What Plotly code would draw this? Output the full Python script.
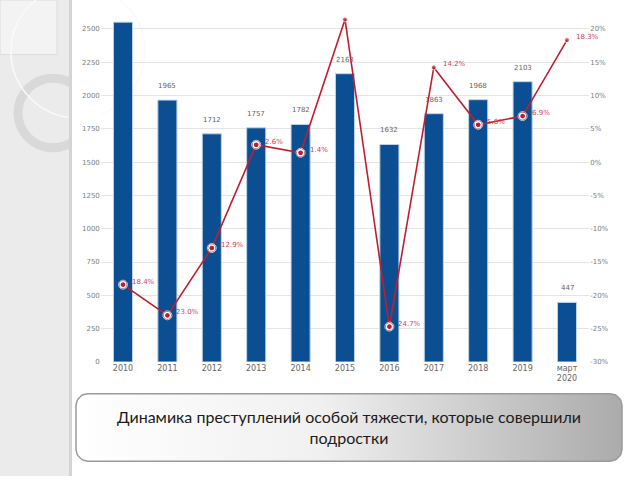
import numpy as np
import plotly.graph_objects as go

# ---------------- data ----------------
categories = ["2010", "2011", "2012", "2013", "2014", "2015", "2016", "2017", "2018", "2019", "март<br>2020"]
counts = [2550, 1965, 1712, 1757, 1782, 2163, 1632, 1863, 1968, 2103, 447]
count_labels = ["", "1965", "1712", "1757", "1782", "2163", "1632", "1863", "1968", "2103", "447"]
change_pct = [-18.4, -23.0, -12.9, 2.6, 1.4, 21.4, -24.7, 14.2, 5.6, 6.9, 18.3]
change_labels = ["18.4%", "23.0%", "12.9%", "2.6%", "1.4%", "", "24.7%", "14.2%", "5.6%", "6.9%", "18.3%"]
ringed = [True, True, True, True, True, False, True, False, True, True, False]
left_ticks = [0, 250, 500, 750, 1000, 1250, 1500, 1750, 2000, 2250, 2500]
right_ticks = [-30, -25, -20, -15, -10, -5, 0, 5, 10, 15, 20]
right_tick_text = [f"{v}%" for v in right_ticks]
caption = "Динамика преступлений особой тяжести, которые совершили<br>подростки"

W, H = 640, 480
BAR = "#0b4f92"
RED = "#c01e2e"
LBL = "#d8404e"

xi = list(range(len(categories)))

fig = go.Figure()

# bars
fig.add_trace(go.Bar(
    x=xi, y=counts, width=0.43,
    marker=dict(color=BAR, line=dict(color="#bcd4ec", width=1)),
    xaxis="x", yaxis="y", hoverinfo="skip", showlegend=False))

# line
fig.add_trace(go.Scatter(
    x=xi, y=change_pct, mode="lines+markers", xaxis="x", yaxis="y2",
    line=dict(color=RED, width=1.6),
    marker=dict(size=[9 if r else 5 for r in ringed], color=RED),
    showlegend=False, hoverinfo="skip", cliponaxis=False))
rx = [i for i, r in zip(xi, ringed) if r]
ry = [v for v, r in zip(change_pct, ringed) if r]
fig.add_trace(go.Scatter(
    x=rx, y=ry, mode="markers", xaxis="x", yaxis="y2",
    marker=dict(size=6, color=RED, line=dict(color="white", width=1.3)),
    showlegend=False, hoverinfo="skip", cliponaxis=False))

annotations = []
for i, v, t in zip(xi, counts, count_labels):
    if t:
        annotations.append(dict(x=i, y=v, xref="x", yref="y", text=t, showarrow=False,
                                yshift=14, font=dict(family="DejaVu Sans", size=7, color="#666")))
for i, v, t in zip(xi, change_pct, change_labels):
    if t:
        annotations.append(dict(x=i, y=v, xref="x", yref="y2", text=t, showarrow=False,
                                xanchor="left", xshift=7, yshift=3,
                                font=dict(family="DejaVu Sans", size=7, color=LBL)))

# caption box (rounded rectangle with horizontal gradient) on a helper pixel axis
x0, x1, y0, y1, r = 76, 622, 397, 465, 12
pts_x, pts_y = [], []
for cx, cy, a0 in [(x1 - r, y0 + r, -90), (x1 - r, y1 - r, 0), (x0 + r, y1 - r, 90), (x0 + r, y0 + r, 180)]:
    ang = np.radians(np.linspace(a0, a0 + 90, 12))
    pts_x += [float(v) for v in cx + r * np.cos(ang)]
    pts_y += [float(v) for v in cy + r * np.sin(ang)]
pts_x.append(pts_x[0]); pts_y.append(pts_y[0])
fig.add_trace(go.Scatter(
    x=pts_x, y=pts_y, xaxis="x3", yaxis="y3", mode="lines", fill="toself",
    line=dict(color="#9a9a9a", width=1.5),
    fillgradient=dict(type="horizontal", colorscale=[[0, "#ffffff"], [0.45, "#f0f0f0"], [1, "#ababab"]]),
    showlegend=False, hoverinfo="skip"))
annotations.append(dict(x=(x0 + x1) / 2, y=(y0 + y1) / 2, xref="x3", yref="y3", text=caption,
                        showarrow=False, font=dict(family="Lato", size=16, color="#1c1c1c")))


def px(v):
    return v / W


def py(v):
    return 1 - v / H


# decorative left panel (paper coordinates converted from pixels)
shapes = [
    dict(type="rect", xref="paper", yref="paper", x0=px(0), x1=px(71), y0=py(480), y1=py(0),
         fillcolor="#ebebeb", line=dict(width=0), layer="below"),
    dict(type="rect", xref="paper", yref="paper", x0=px(0), x1=px(57), y0=py(55), y1=py(0),
         fillcolor="#f3f3f3", line=dict(color="#dcdcdc", width=1), layer="below"),
    dict(type="circle", xref="paper", yref="paper", x0=px(53 - 35), x1=px(53 + 35),
         y0=py(114 + 35), y1=py(114 - 35),
         fillcolor="rgba(0,0,0,0)", line=dict(color="#d9d9d9", width=9), layer="below"),
    dict(type="circle", xref="paper", yref="paper", x0=px(78 - 67), x1=px(78 + 67),
         y0=py(52 + 67), y1=py(52 - 67),
         fillcolor="rgba(0,0,0,0)", line=dict(color="#fafafa", width=1.5), layer="below"),
    dict(type="rect", xref="paper", yref="paper", x0=px(71), x1=px(100), y0=py(480), y1=py(0),
         fillcolor="white", line=dict(width=0), layer="below"),
    dict(type="rect", xref="paper", yref="paper", x0=px(69), x1=px(72), y0=py(480), y1=py(0),
         fillcolor="#d4d4d4", line=dict(width=0), layer="below"),
]

tickfont = dict(family="DejaVu Sans", size=7, color="#808080")
fig.update_layout(
    width=W, height=H, margin=dict(l=0, r=0, t=0, b=0),
    paper_bgcolor="white", plot_bgcolor="rgba(0,0,0,0)",
    xaxis=dict(domain=[100.8 / W, 589.2 / W], range=[-0.5, len(categories) - 0.5],
               tickvals=xi, ticktext=categories, showgrid=False, zeroline=False,
               showline=False, ticks="", tickfont=dict(family="DejaVu Sans", size=8, color="#666"),
               anchor="y"),
    yaxis=dict(domain=[(H - 365) / H, (H - 15.6) / H], range=[0, 2600], tickvals=left_ticks,
               showgrid=True, gridcolor="#e4e4e4", gridwidth=1, zeroline=False, showline=False,
               tickfont=tickfont, anchor="x"),
    yaxis2=dict(overlaying="y", side="right", range=[-30, 22], tickvals=right_ticks,
                ticktext=right_tick_text, showgrid=False, zeroline=False, showline=False,
                tickfont=tickfont, anchor="x"),
    xaxis3=dict(domain=[0, 1], range=[0, W], visible=False, anchor="y3"),
    yaxis3=dict(domain=[0, 1], range=[H, 0], visible=False, anchor="x3"),
    annotations=annotations, shapes=shapes,
)

fig.write_html("out.html")
